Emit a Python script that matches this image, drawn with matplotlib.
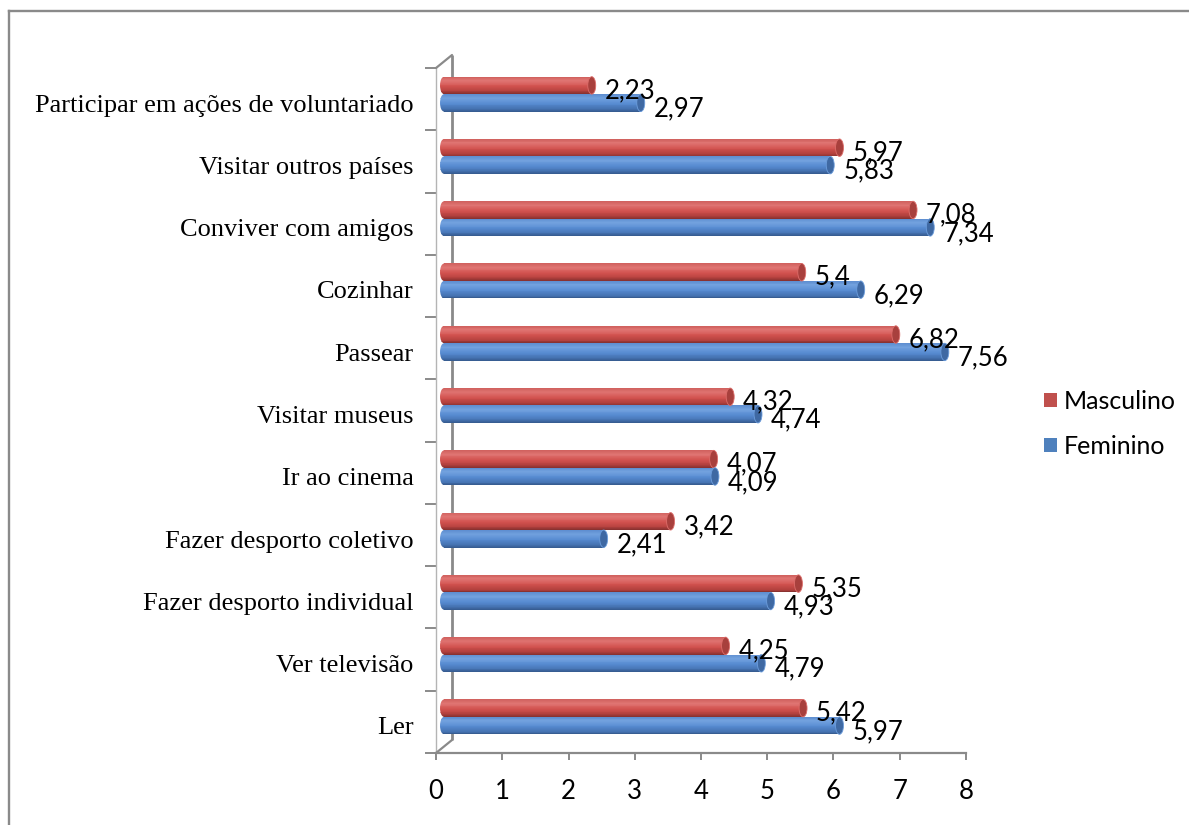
import matplotlib
matplotlib.use("Agg")
import matplotlib.pyplot as plt
from matplotlib.colors import LinearSegmentedColormap
from matplotlib.patches import Ellipse, Patch
from matplotlib.transforms import ScaledTranslation
from matplotlib.lines import Line2D

# ---- data ----
categories = [
    "Ler",
    "Ver televisão",
    "Fazer desporto individual",
    "Fazer desporto coletivo",
    "Ir ao cinema",
    "Visitar museus",
    "Passear",
    "Cozinhar",
    "Conviver com amigos",
    "Visitar outros países",
    "Participar em ações de voluntariado",
]
masculino = [5.42, 4.25, 5.35, 3.42, 4.07, 4.32, 6.82, 5.40, 7.08, 5.97, 2.23]
feminino = [5.97, 4.79, 4.93, 2.41, 4.09, 4.74, 7.56, 6.29, 7.34, 5.83, 2.97]
series_names = ["Masculino", "Feminino"]
x_ticks = [0, 1, 2, 3, 4, 5, 6, 7, 8]

# ---- style ----
W, H = 1189, 825
DPI = 100
label_font = ["Lato", "DejaVu Sans"]
cat_font = ["Liberation Serif", "DejaVu Serif"]
grey = "#8a8a8a"
num_size = 18.5

red_cmap = LinearSegmentedColormap.from_list(
    "red_cyl", [(0.0, "#d1625f"), (0.22, "#e07573"), (0.55, "#d2524f"), (0.85, "#b3413e"), (1.0, "#8a3230")])
blue_cmap = LinearSegmentedColormap.from_list(
    "blue_cyl", [(0.0, "#5f8fd1"), (0.22, "#73a2df"), (0.55, "#578bd1"), (0.85, "#4673b2"), (1.0, "#375d92")])
cap_colors = ["#a8403d", "#3f69a3"]
legend_colors = ["#c0504d", "#4f81bd"]

fig = plt.figure(figsize=(W / DPI, H / DPI), dpi=DPI)
ax = fig.add_axes([436 / W, 1 - 753 / H, 530 / W, (753 - 68) / H])
n_cat = len(categories)
ax.set_xlim(0, 8)
ax.set_ylim(-0.5, n_cat - 0.5)

# bars sit slightly behind the front plane of the 3D box
depth = ax.transData + ScaledTranslation(8 / DPI, 5 / DPI, fig.dpi_scale_trans)

bar_h = 0.28
cap_w = 0.12
n_strips = 20


def cylinder(y, value, cmap, cap_color):
    sh = bar_h / n_strips
    ys = [y + bar_h / 2 - (k + 0.5) * sh for k in range(n_strips)]
    cols = [cmap(k / (n_strips - 1)) for k in range(n_strips)]
    # rounded back end
    back = Ellipse((0, y), cap_w, bar_h, transform=depth, facecolor="none", edgecolor="none")
    ax.add_patch(back)
    left = ax.barh(ys, [cap_w / 2] * n_strips, height=sh * 1.05, left=-cap_w / 2,
                   color=cols, linewidth=0, transform=depth, zorder=2)
    for r in left:
        r.set_clip_path(back)
    ax.barh(ys, [value] * n_strips, height=sh * 1.05, left=0,
            color=cols, linewidth=0, transform=depth, zorder=2)
    cap = Ellipse((value, y), cap_w, bar_h, transform=depth,
                  facecolor=cap_color, edgecolor=cmap(0.3), linewidth=0.6, zorder=3)
    ax.add_patch(cap)


def fmt(v):
    return ("%g" % v).replace(".", ",")


offsets = [0.14, -0.14]
for i in range(n_cat):
    for s, (vals, cmap) in enumerate([(masculino, red_cmap), (feminino, blue_cmap)]):
        y = i + offsets[s]
        v = vals[i]
        cylinder(y, v, cmap, cap_colors[s])
        ax.annotate(fmt(v), xy=(v, y), xycoords=depth, xytext=(13, -5 - s),
                    textcoords="offset pixels", ha="left", va="center",
                    fontsize=num_size, family=label_font, color="black", zorder=5,
                    annotation_clip=False)

# ---- axes and 3D wall ----
for side in ["top", "right"]:
    ax.spines[side].set_visible(False)
ax.spines["bottom"].set_color(grey)
ax.spines["bottom"].set_linewidth(1.6)
ax.spines["left"].set_color("#b4b4b4")
ax.spines["left"].set_linewidth(1.0)
ax.patch.set_visible(False)

ax.set_xticks(x_ticks)
ax.set_xticklabels([str(t) for t in x_ticks], family=label_font, fontsize=num_size)
ax.tick_params(axis="x", direction="out", length=5, width=1.4, color=grey, pad=14)

ax.set_yticks([i - 0.5 for i in range(n_cat + 1)])
ax.set_yticklabels([])
ax.tick_params(axis="y", which="major", direction="out", length=8, width=1.4, color=grey)
ax.set_yticks(list(range(n_cat)), minor=True)
ax.set_yticklabels(categories, minor=True, family=cat_font, fontsize=19)
ax.tick_params(axis="y", which="minor", length=0, pad=16)
for lab in ax.get_yticklabels(minor=True):
    lab.set_transform(lab.get_transform() + ScaledTranslation(0, -4 / DPI, fig.dpi_scale_trans))

back_wall = ax.transData + ScaledTranslation(16 / DPI, 13 / DPI, fig.dpi_scale_trans)
ax.plot([0, 0], [-0.5, n_cat - 0.5], transform=back_wall, color=grey, lw=2.0,
        solid_capstyle="butt", clip_on=False, zorder=1)
for yy in (-0.5, n_cat - 0.5):
    ax.annotate("", xy=(0, yy), xycoords="data", xytext=(16, 13), textcoords="offset pixels",
                arrowprops=dict(arrowstyle="-", color=grey, lw=1.6, shrinkA=0, shrinkB=0),
                annotation_clip=False)

# ---- legend ----
handles = [Patch(facecolor=c, edgecolor="none") for c in legend_colors]
fig.legend(handles, series_names, loc="center left",
           bbox_to_anchor=(1021 / W, 1 - 424 / H), frameon=False,
           prop={"family": label_font, "size": 18},
           handlelength=0.52, handleheight=0.52, handletextpad=0.3, labelspacing=0.88)

# ---- outer frame ----
fig.add_artist(Line2D([8.5 / W, 8.5 / W], [0, 1 - 10.5 / H], color=grey, lw=1.7))
fig.add_artist(Line2D([8.5 / W, 1], [1 - 10.5 / H, 1 - 10.5 / H], color=grey, lw=1.7))

fig.savefig("out.png", dpi=DPI)
